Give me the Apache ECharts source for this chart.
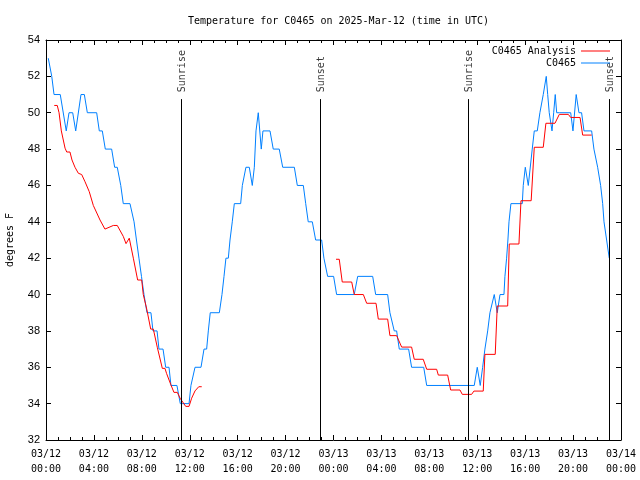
<!DOCTYPE html>
<html><head><meta charset="utf-8">
<script src="https://cdn.jsdelivr.net/npm/echarts@6/dist/echarts.min.js"></script>
<style>html,body{margin:0;padding:0;background:#fff}#c{width:640px;height:480px}</style>
</head><body><div id="c"></div>
<script>
// x values are hours since 03/12 00:00 UTC
const xTickLabels = ['03/12\n00:00','03/12\n04:00','03/12\n08:00','03/12\n12:00','03/12\n16:00','03/12\n20:00',
  '03/13\n00:00','03/13\n04:00','03/13\n08:00','03/13\n12:00','03/13\n16:00','03/13\n20:00','03/14\n00:00'];
const yRange = [32, 54];

const sunEvents = [
  {name:'Sunrise', t:11.27},
  {name:'Sunset', t:22.87},
  {name:'Sunrise', t:35.22},
  {name:'Sunset', t:46.99}
];

// C0465 Analysis (red)
const analysis = [[0.69,50.4],[0.94,50.4],[1.09,50.0],[1.28,49.0],[1.59,48.05],[1.73,47.84],[2.00,47.84],[2.17,47.4],[2.42,47.0],[2.70,46.67],[2.98,46.6],[3.26,46.2],[3.61,45.66],[3.95,44.9],[4.51,44.1],[4.92,43.6],[5.62,43.8],[5.95,43.8],[6.45,43.2],[6.68,42.8],[6.95,43.1],[7.29,42.0],[7.65,40.8],[7.99,40.8],[8.12,40.0],[8.41,39.2],[8.74,38.1],[8.96,38.1],[9.29,37.1],[9.71,35.94],[9.93,35.94],[10.07,35.65],[10.41,35.06],[10.68,34.62],[10.96,34.62],[11.19,34.3],[11.66,33.85],[11.94,33.85],[12.16,34.3],[12.44,34.7],[12.75,34.93],[13.00,34.93],
  [18.0,null],
  [24.21,41.94],[24.48,41.94],[24.73,40.69],[25.52,40.69],[25.73,40.0],[26.49,40.0],[26.77,39.52],[27.55,39.52],[27.74,38.65],[28.52,38.65],[28.71,37.74],[29.27,37.74],[29.69,37.11],[30.52,37.11],[30.74,36.44],[31.49,36.44],[31.78,35.89],[32.61,35.89],[32.75,35.57],[33.53,35.57],[33.78,34.75],[34.56,34.75],[34.75,34.51],[35.53,34.51],[35.72,34.69],[36.50,34.69],[36.64,36.71],[37.50,36.71],[37.67,39.37],[38.54,39.37],[38.67,42.78],[39.48,42.78],[39.65,45.16],[40.50,45.16],[40.76,48.1],[41.51,48.1],[41.73,49.42],[42.49,49.42],[42.85,49.91],[43.60,49.91],[43.80,49.74],[44.58,49.74],[44.80,48.77],[45.55,48.77]];

// C0465 observations (blue)
const observed = [[0.19,53],[0.48,52],[0.67,51],[1.19,51],[1.69,49],[1.92,50],[2.23,50],[2.48,49],[2.92,51],[3.20,51],[3.45,50],[4.23,50],[4.45,49],[4.70,49],[4.95,48],[5.48,48],[5.73,47],[5.95,47],[6.24,46],[6.45,45],[7.01,45],[7.35,44],[7.55,43],[7.76,42],[7.97,41],[8.18,40],[8.43,39],[8.76,39],[8.93,38],[9.27,38],[9.43,37],[9.77,37],[9.99,36],[10.27,36],[10.43,35],[10.93,35],[11.21,34],[11.94,34],[12.10,35],[12.44,36],[12.94,36],[13.19,37],[13.41,37],[13.55,38],[13.71,39],[14.47,39],[14.69,40],[14.86,41],[15.02,42],[15.22,42],[15.36,43],[15.55,44],[15.72,45],[16.25,45],[16.39,46],[16.69,47],[16.97,47],[17.22,46],[17.39,47],[17.53,49],[17.72,50],[17.97,48],[18.11,49],[18.70,49],[18.97,48],[19.47,48],[19.76,47],[20.73,47],[20.98,46],[21.48,46],[21.68,45],[21.89,44],[22.23,44],[22.51,43],[23.01,43],[23.20,42],[23.51,41],[24.01,41],[24.26,40],[25.73,40],[26.02,41],[27.27,41],[27.52,40],[28.52,40],[28.71,39],[29.07,38],[29.27,38],[29.49,37],[30.27,37],[30.52,36],[31.53,36],[31.78,35],[35.75,35],[36.00,36],[36.25,35],[36.45,36],[36.64,37],[36.87,38],[37.06,39],[37.42,40],[37.67,39],[37.90,40],[38.23,40],[38.31,41],[38.45,42],[38.56,43],[38.65,44],[38.81,45],[39.76,45],[39.84,46],[40.01,47],[40.26,46],[40.59,48],[40.76,49],[41.01,49],[41.23,50],[41.51,51],[41.76,52],[41.88,51],[42.01,50],[42.24,49],[42.38,50],[42.51,51],[42.63,50],[42.85,50],[43.80,50],[43.99,49],[44.26,51],[44.49,50],[44.71,50],[44.91,49],[45.55,49],[45.74,48],[46.05,47],[46.30,46],[46.47,45],[46.58,44],[46.80,43],[47.02,42]];

const sunLineTop = 50.75;
const sunLabelAt = 51.1;

const MONO = '"DejaVu Sans Mono", "Liberation Mono", monospace';
const SANS = '"Liberation Sans", Arial, sans-serif';
const RED = '#ff0000', BLUE = '#0080ff';

const xCommon = {
  type:'value', min:0, max:48, interval:4,
  axisLine:{show:true, onZero:false, lineStyle:{color:'#000', width:1}},
  axisTick:{show:true, inside:true, length:5, lineStyle:{color:'#000', width:1}},
  minorTick:{show:true, splitNumber:4, length:3, lineStyle:{color:'#000', width:1}},
  splitLine:{show:false}, minorSplitLine:{show:false}
};
const yCommon = {
  type:'value', min:yRange[0], max:yRange[1], interval:2,
  axisLine:{show:true, onZero:false, lineStyle:{color:'#000', width:1}},
  axisTick:{show:true, inside:true, length:5, lineStyle:{color:'#000', width:1}},
  splitLine:{show:false}
};

const legendCommon = {
  orient:'vertical', align:'right', itemWidth:29, itemHeight:12, itemGap:0, padding:0,
  icon:'path://M0,0 L29,0 L29,1 L0,1 Z',
  textStyle:{fontFamily:MONO, fontSize:10, color:'#000'}
};

const chart = echarts.init(document.getElementById('c'), null, {renderer:'canvas'});
chart.setOption({
  animation:false,
  backgroundColor:'#fff',
  title:{text:'Temperature for C0465 on 2025-Mar-12 (time in UTC)', left:183, top:11,
    textStyle:{fontFamily:MONO, fontSize:10, fontWeight:'normal', color:'#000'}},
  legend:[
    Object.assign({}, legendCommon, {data:['C0465 Analysis'], right:30, top:46}),
    Object.assign({}, legendCommon, {data:['C0465'], right:30, top:58})
  ],
  grid:{left:46, right:19, top:40, bottom:40, outerBoundsMode:'none'},
  xAxis:[
    Object.assign({}, xCommon, {position:'bottom',
      axisLabel:{formatter:v => xTickLabels[Math.round(v/4)], fontFamily:MONO, fontSize:10, color:'#000', lineHeight:15, margin:7}}),
    Object.assign({}, xCommon, {position:'top', axisLabel:{show:false}})
  ],
  yAxis:[
    Object.assign({}, yCommon, {position:'left', name:'degrees F', nameLocation:'middle', nameGap:31, nameRotate:90,
      nameTextStyle:{fontFamily:MONO, fontSize:10, color:'#000'},
      axisLabel:{fontFamily:SANS, fontSize:11, color:'#000', margin:6}}),
    Object.assign({}, yCommon, {position:'right', axisLabel:{show:false}})
  ],
  series:[
    {name:'C0465 Analysis', type:'line', data:analysis, symbol:'none', connectNulls:false,
      lineStyle:{color:RED, width:1}, itemStyle:{color:RED}, z:3},
    {name:'C0465', type:'line', data:observed, symbol:'none',
      lineStyle:{color:BLUE, width:1}, itemStyle:{color:BLUE}, z:2},
    {name:'sun', type:'scatter', symbolSize:1, silent:true,
      itemStyle:{color:'rgba(0,0,0,0)'},
      data:sunEvents.map(e => ({name:e.name, value:[e.t, sunLabelAt]})),
      label:{show:true, formatter:'{b}', position:[0,0], rotate:90, align:'left', verticalAlign:'middle',
        offset:[0,2], fontFamily:MONO, fontSize:10, color:'#000'},
      markLine:{silent:true, symbol:['none','none'], label:{show:false},
        lineStyle:{color:'#000', width:1, type:'solid'},
        data:sunEvents.map(e => [{coord:[e.t, yRange[0]]}, {coord:[e.t, sunLineTop]}])}
    }
  ]
});
</script></body></html>
